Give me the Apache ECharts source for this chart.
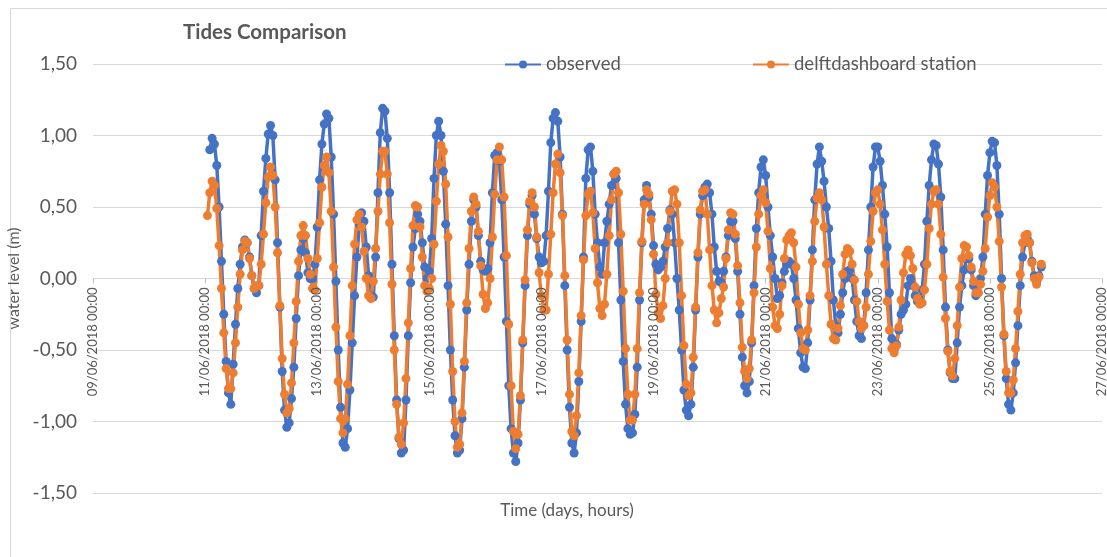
<!DOCTYPE html>
<html>
<head>
<meta charset="utf-8">
<script src="https://cdn.jsdelivr.net/npm/echarts@6/dist/echarts.min.js"></script>
<style>
  html, body { margin: 0; padding: 0; background: #ffffff; }
  #chart { width: 1107px; height: 557px; }
</style>
</head>
<body>
<div id="chart"></div>
<script>
// Time axis runs in hours counted from 09/06/2018 00:00 (UTC), ticks every 48 h.
const axisStartUTC = Date.UTC(2018, 5, 9, 0, 0);
const xMinHour = 0;
const xMaxHour = 432;
const xStepHour = 48;

// Y axis ticks (water level, m)
const yTicks = [-1.5, -1.0, -0.5, 0.0, 0.5, 1.0, 1.5];

// Hourly series; first sample hour given relative to 09/06/2018 00:00
const observedStartHour = 50;   // 11/06/2018 02:00
const delftStartHour = 49;      // 11/06/2018 01:00

const observed = [
  0.90, 0.98, 0.94, 0.79, 0.50, 0.12, -0.25, -0.58, -0.80,
  -0.88, -0.60, -0.32, -0.07, 0.10, 0.22, 0.27, 0.25, 0.15, 0.02,
  -0.07, -0.10, -0.05, 0.30, 0.61, 0.84, 1.01, 1.07, 1.00, 0.69,
  0.25, -0.20, -0.65, -0.92, -1.04, -1.01, -0.84, -0.62, -0.28, 0.02,
  0.20, 0.28, 0.18, 0.04, 0.00, 0.00, 0.10, 0.36, 0.69, 0.94,
  1.08, 1.15, 1.12, 0.85, 0.45, -0.02, -0.50, -0.90, -1.15, -1.18,
  -1.05, -0.78, -0.45, -0.12, 0.15, 0.38, 0.46, 0.40, 0.22, 0.02,
  -0.12, -0.13, 0.15, 0.60, 1.02, 1.19, 1.17, 0.98, 0.60, 0.10,
  -0.40, -0.85, -1.12, -1.22, -1.20, -0.85, -0.40, -0.03, 0.22, 0.35,
  0.45, 0.40, 0.25, 0.08, 0.00, 0.05, 0.28, 0.70, 1.00, 1.10,
  1.00, 0.75, 0.38, -0.05, -0.50, -0.85, -1.10, -1.22, -1.20, -0.98,
  -0.62, -0.22, 0.10, 0.40, 0.55, 0.50, 0.30, 0.12, 0.06, 0.05,
  0.07, 0.25, 0.60, 0.86, 0.88, 0.82, 0.55, 0.15, -0.30, -0.75,
  -1.05, -1.22, -1.28, -1.15, -0.85, -0.45, -0.05, 0.30, 0.52, 0.58,
  0.45, 0.28, 0.15, 0.11, 0.12, 0.30, 0.61, 0.95, 1.12, 1.16,
  1.10, 0.85, 0.45, -0.05, -0.50, -0.90, -1.15, -1.22, -1.08, -0.72,
  -0.30, 0.15, 0.70, 0.90, 0.92, 0.75, 0.45, 0.25, 0.08, 0.03,
  0.25, 0.40, 0.52, 0.65, 0.73, 0.70, 0.25, -0.15, -0.58, -0.88,
  -1.05, -1.09, -1.08, -0.95, -0.62, -0.15, 0.25, 0.55, 0.65, 0.57,
  0.45, 0.23, 0.10, 0.06, 0.08, 0.12, 0.22, 0.35, 0.48, 0.45,
  0.25, 0.00, -0.22, -0.50, -0.78, -0.92, -0.96, -0.88, -0.62, -0.22,
  0.15, 0.45, 0.58, 0.64, 0.66, 0.60, 0.45, 0.22, 0.05, -0.02,
  -0.03, 0.05, 0.15, 0.30, 0.40, 0.40, 0.28, 0.05, -0.25, -0.55,
  -0.75, -0.80, -0.72, -0.45, -0.05, 0.35, 0.60, 0.78, 0.83, 0.72,
  0.50, 0.30, 0.15, 0.00, -0.14, -0.12, -0.03, 0.05, 0.10, 0.12,
  0.10, 0.00, -0.15, -0.35, -0.52, -0.62, -0.63, -0.45, -0.15, 0.20,
  0.55, 0.80, 0.92, 0.82, 0.68, 0.50, 0.35, 0.12, -0.15, -0.33,
  -0.38, -0.25, -0.10, 0.00, 0.05, 0.06, 0.00, -0.15, -0.30, -0.40,
  -0.42, -0.33, -0.10, 0.20, 0.50, 0.78, 0.92, 0.92, 0.82, 0.65,
  0.45, 0.22, -0.10, -0.42, -0.50, -0.46, -0.36, -0.25, -0.22, -0.18,
  -0.05, 0.00, -0.05, -0.12, -0.16, -0.15, -0.08, 0.10, 0.40, 0.65,
  0.83, 0.94, 0.93, 0.80, 0.57, 0.20, -0.20, -0.50, -0.66, -0.70,
  -0.70, -0.45, -0.20, -0.05, 0.06, 0.14, 0.14, 0.06, -0.05, -0.12,
  -0.10, 0.00, 0.15, 0.45, 0.72, 0.88, 0.96, 0.95, 0.79, 0.45,
  0.00, -0.40, -0.70, -0.88, -0.92, -0.80, -0.59, -0.33, -0.05, 0.15,
  0.25, 0.28, 0.25, 0.12, 0.02, -0.02, 0.02, 0.08
];

const delftdashboard = [
  0.44, 0.60, 0.68, 0.65, 0.49, 0.23, -0.07, -0.38, -0.63, -0.77,
  -0.77, -0.66, -0.45, -0.20, 0.03, 0.20, 0.26, 0.25, 0.14, 0.02,
  -0.07, -0.05, -0.05, 0.10, 0.31, 0.53, 0.71, 0.78, 0.72, 0.50,
  0.18, -0.19, -0.56, -0.81, -0.94, -0.91, -0.73, -0.45, -0.16, 0.12,
  0.30, 0.37, 0.30, 0.14, 0.03, -0.07, -0.08, 0.14, 0.39, 0.64,
  0.79, 0.85, 0.74, 0.47, 0.08, -0.34, -0.72, -0.98, -1.08, -0.98,
  -0.74, -0.40, -0.05, 0.24, 0.41, 0.45, 0.36, 0.19, 0.00, -0.12,
  -0.14, -0.02, 0.21, 0.47, 0.73, 0.89, 0.89, 0.73, 0.39, -0.04,
  -0.50, -0.88, -1.11, -1.16, -1.01, -0.70, -0.31, 0.07, 0.37, 0.51,
  0.50, 0.36, 0.15, -0.05, -0.09, -0.07, 0.00, 0.24, 0.54, 0.80,
  0.93, 0.89, 0.66, 0.29, -0.18, -0.65, -1.00, -1.18, -1.16, -0.94,
  -0.58, -0.17, 0.21, 0.47, 0.57, 0.52, 0.33, 0.09, -0.11, -0.21,
  -0.17, 0.00, 0.29, 0.59, 0.83, 0.92, 0.83, 0.57, 0.16, -0.32,
  -0.75, -1.07, -1.19, -1.09, -0.82, -0.43, -0.01, 0.34, 0.54, 0.60,
  0.50, 0.29, 0.04, -0.12, -0.22, -0.22, 0.03, 0.31, 0.60, 0.80,
  0.87, 0.74, 0.44, 0.02, -0.43, -0.81, -1.07, -1.10, -0.96, -0.66,
  -0.26, 0.13, 0.44, 0.59, 0.61, 0.46, 0.21, -0.03, -0.21, -0.26,
  -0.18, 0.03, 0.30, 0.55, 0.73, 0.75, 0.60, 0.31, -0.09, -0.49,
  -0.81, -0.99, -0.99, -0.81, -0.49, -0.10, 0.26, 0.52, 0.62, 0.59,
  0.41, 0.17, -0.11, -0.24, -0.28, -0.19, 0.00, 0.25, 0.47, 0.61,
  0.62, 0.52, 0.25, -0.12, -0.47, -0.74, -0.82, -0.80, -0.55, -0.20,
  0.18, 0.48, 0.61, 0.62, 0.45, 0.20, -0.05, -0.22, -0.31, -0.24,
  -0.14, -0.06, 0.14, 0.34, 0.46, 0.45, 0.31, 0.09, -0.17, -0.48,
  -0.65, -0.70, -0.63, -0.43, -0.10, 0.22, 0.45, 0.58, 0.62, 0.53,
  0.33, 0.07, -0.20, -0.33, -0.35, -0.25, -0.05, 0.14, 0.27, 0.30,
  0.32, 0.25, 0.08, -0.18, -0.38, -0.49, -0.50, -0.36, -0.12, 0.12,
  0.40, 0.56, 0.60, 0.55, 0.36, 0.10, -0.12, -0.32, -0.42, -0.43,
  -0.35, -0.19, 0.03, 0.17, 0.21, 0.19, 0.10, -0.01, -0.16, -0.30,
  -0.35, -0.33, -0.20, 0.03, 0.26, 0.47, 0.60, 0.62, 0.52, 0.34,
  0.10, -0.16, -0.36, -0.49, -0.52, -0.47, -0.34, -0.15, 0.04, 0.17,
  0.20, 0.16, 0.07, -0.06, -0.14, -0.18, -0.17, -0.08, 0.10, 0.35,
  0.52, 0.61, 0.62, 0.52, 0.31, 0.01, -0.28, -0.51, -0.65, -0.68,
  -0.56, -0.33, -0.06, 0.14, 0.23, 0.22, 0.16, 0.08, -0.02, -0.10,
  -0.10, -0.04, 0.05, 0.21, 0.43, 0.58, 0.67, 0.64, 0.50, 0.26,
  -0.06, -0.39, -0.65, -0.80, -0.80, -0.71, -0.49, -0.23, 0.03, 0.25,
  0.30, 0.31, 0.25, 0.11, 0.00, -0.04, 0.01, 0.10
];

const seriesNames = ['observed', 'delftdashboard station'];
const titleText = 'Tides Comparison';
const yAxisTitle = 'water level (m)';
const xAxisTitle = 'Time (days, hours)';

const FONT = 'Lato, "Open Sans", sans-serif';
const TEXT_COLOR = '#595959';
const GRID_COLOR = '#D9D9D9';
const BLUE = '#4472C4';
const ORANGE = '#ED7D31';

// Plot area (pixels inside the 1107x557 canvas)
const PLOT_TOP = 64;
const PLOT_BOTTOM = 64;
const PLOT_HEIGHT = 557 - PLOT_TOP - PLOT_BOTTOM;

function pad2(n) { return (n < 10 ? '0' : '') + n; }
function hourLabel(h) {
  const d = new Date(axisStartUTC + h * 3600000);
  return pad2(d.getUTCDate()) + '/' + pad2(d.getUTCMonth() + 1) + '/' + d.getUTCFullYear() +
    ' ' + pad2(d.getUTCHours()) + ':' + pad2(d.getUTCMinutes());
}
function toPairs(values, startHour) {
  return values.map((v, i) => [startHour + i, v]);
}

// The time axis sits on the water level 0 line; shift it up from the grid bottom.
const yMin = yTicks[0], yMax = yTicks[yTicks.length - 1];
const zeroShift = -PLOT_HEIGHT * (0 - yMin) / (yMax - yMin);

const chart = echarts.init(document.getElementById('chart'), null, { renderer: 'canvas' });

const lineSeries = (name, values, start, color) => ({
  name: name,
  type: 'line',
  data: toPairs(values, start),
  symbol: 'circle',
  symbolSize: 9,
  showSymbol: true,
  lineStyle: { color: color, width: 3.5 },
  itemStyle: { color: color },
  emphasis: { disabled: true }
});

const legendBase = {
  top: 55,
  padding: 0,
  itemWidth: 36, itemHeight: 10, itemGap: 5,
  textStyle: { fontFamily: FONT, fontSize: 18.5, color: TEXT_COLOR }
};

chart.setOption({
  animation: false,
  backgroundColor: '#ffffff',
  textStyle: { fontFamily: FONT },
  title: {
    text: titleText,
    left: 183,
    top: 22,
    padding: 0,
    textStyle: { fontFamily: FONT, fontSize: 20.5, fontWeight: 'bold', color: TEXT_COLOR }
  },
  legend: [
    Object.assign({ data: [seriesNames[0]], left: 504 }, legendBase),
    Object.assign({ data: [seriesNames[1]], left: 752 }, legendBase)
  ],
  grid: {
    left: 93, right: 5, top: PLOT_TOP, bottom: PLOT_BOTTOM,
    containLabel: false,
    outerBoundsMode: 'none'
  },
  xAxis: {
    type: 'value',
    position: 'bottom',
    offset: zeroShift,
    z: 5,
    min: xMinHour,
    max: xMaxHour,
    interval: xStepHour,
    // the 0 gridline of the y axis already draws this line
    axisLine: { show: false, onZero: false },
    axisTick: { show: true, length: 5, lineStyle: { color: '#BFBFBF' } },
    splitLine: { show: false },
    axisLabel: {
      rotate: 90,
      margin: 9,
      fontFamily: FONT,
      fontSize: 13,
      color: TEXT_COLOR,
      formatter: (v) => hourLabel(v)
    }
  },
  yAxis: {
    type: 'value',
    min: yMin,
    max: yMax,
    interval: 0.5,
    name: yAxisTitle,
    nameLocation: 'middle',
    nameRotate: 90,
    nameGap: 58,
    nameTextStyle: { fontFamily: FONT, fontSize: 16, color: TEXT_COLOR },
    axisLine: { show: false, onZero: false },
    axisTick: { show: false },
    splitLine: { show: true, lineStyle: { color: GRID_COLOR, width: 1 } },
    axisLabel: {
      margin: 16,
      fontFamily: FONT,
      fontSize: 19,
      color: TEXT_COLOR,
      formatter: (v) => v.toFixed(2).replace('.', ',')
    }
  },
  graphic: [
    {
      type: 'rect',
      shape: { x: 10.5, y: 8.5, width: 1120, height: 600 },
      style: { fill: null, stroke: GRID_COLOR, lineWidth: 1 },
      silent: true,
      z: -10
    },
    {
      type: 'text',
      x: 567, y: 511,
      style: {
        text: xAxisTitle,
        fontFamily: FONT, fontSize: 17, fill: TEXT_COLOR,
        textAlign: 'center', textVerticalAlign: 'middle'
      },
      silent: true
    }
  ],
  series: [
    lineSeries(seriesNames[0], observed, observedStartHour, BLUE),
    lineSeries(seriesNames[1], delftdashboard, delftStartHour, ORANGE)
  ]
});
</script>
</body>
</html>
